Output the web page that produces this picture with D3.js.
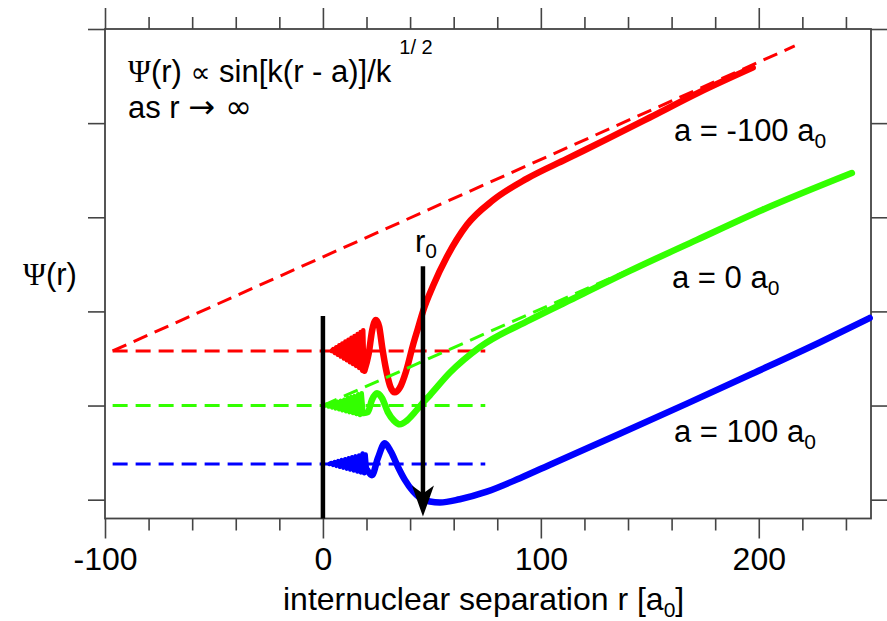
<!DOCTYPE html>
<html>
<head>
<meta charset="utf-8">
<script src="https://cdn.jsdelivr.net/npm/d3@7"></script>
<style>
  body { margin: 0; background: #fff; }
  text { font-family: "Liberation Sans", Arial, sans-serif; fill: #000; }
  .sym { font-family: "Liberation Serif", "DejaVu Serif", serif; }
  .math { font-family: "DejaVu Sans", sans-serif; }
</style>
</head>
<body>
<script>
// ticks
const majorTicks = [-100, 0, 100, 200]
const minorTicks = [-80, -60, -40, -20, 20, 40, 60, 80, 120, 140, 160, 180, 220, 240]
const yTicks = [0, 1, 2, 3, 4, 5]

// dashed reference lines [r, psi]
const redBase = [[-96.5, 1.58], [74.5, 1.58]]
const greenBase = [[-96.5, 1.0], [74.5, 1.0]]
const blueBase = [[-96.5, 0.38], [74.5, 0.38]]
const redSlope = [[-96.5, 1.58], [216.5, 4.82]]
const greenSlope = [[0, 1.0], [155, 2.59]]

// fast oscillation near r = 0
const redFan = [[4, 1.58], [4.7, 1.60], [5.4, 1.56], [6.1, 1.62], [6.8, 1.54], [7.5, 1.64], [8.2, 1.52],
  [8.9, 1.66], [9.6, 1.50], [10.3, 1.68], [11, 1.48], [11.7, 1.70], [12.4, 1.46], [13.1, 1.72],
  [13.8, 1.44], [14.5, 1.74], [15.2, 1.42], [15.9, 1.76], [16.6, 1.40], [17.3, 1.78], [18, 1.37],
  [18.5, 1.80], [19, 1.37]]
const greenFan = [[1, 1.0], [1.8, 1.01], [2.6, 0.99], [3.4, 1.02], [4.2, 0.98], [5, 1.03], [5.8, 0.97],
  [6.6, 1.04], [7.4, 0.96], [8.2, 1.05], [9, 0.95], [9.8, 1.06], [10.6, 0.94], [11.4, 1.08],
  [12.2, 0.93], [13, 1.09], [13.8, 0.92], [14.6, 1.10], [15.4, 0.91], [16.2, 1.12], [17, 0.90],
  [17.8, 1.13], [18.6, 0.92]]
const blueFan = [[3, 0.38], [3.8, 0.39], [4.6, 0.37], [5.4, 0.40], [6.2, 0.36], [7, 0.41], [7.8, 0.35],
  [8.6, 0.42], [9.4, 0.34], [10.2, 0.43], [11, 0.33], [11.8, 0.44], [12.6, 0.32], [13.4, 0.45],
  [14.2, 0.31], [15, 0.46], [15.8, 0.30], [16.6, 0.47], [17.4, 0.29], [18.2, 0.49], [19, 0.28],
  [19.6, 0.48], [20.2, 0.32]]

// wave functions after the fast part
const redPsi = [[19, 1.37], [21, 1.55], [22.6, 1.80], [24.3, 1.91], [25.8, 1.84], [27.2, 1.62],
  [29, 1.38], [30.8, 1.21], [33, 1.14], [35.3, 1.19], [38.1, 1.36], [41.3, 1.64], [43.6, 1.82],
  [45.9, 2.0], [50.5, 2.27], [56.9, 2.58], [66.1, 2.92], [78, 3.18], [93.6, 3.41], [111.9, 3.62],
  [130.3, 3.83], [150, 4.06], [172.9, 4.33], [197.2, 4.59]]
const greenPsi = [[18.6, 0.92], [20.6, 0.93], [22.5, 1.06], [24.8, 1.13], [27.1, 1.08], [29.8, 0.93],
  [32.6, 0.84], [35.3, 0.80], [38.5, 0.84], [42.2, 0.93], [45.9, 1.03], [49.1, 1.11], [58.3, 1.35],
  [72, 1.62], [95, 1.91], [117.9, 2.17], [140.8, 2.43], [171.6, 2.76], [201.8, 3.08], [242.7, 3.47]]
const bluePsi = [[20.2, 0.32], [22.5, 0.26], [25.2, 0.44], [28.4, 0.60], [31.2, 0.51], [34.4, 0.35],
  [37.6, 0.21], [41.3, 0.09], [44.5, 0.02], [49.1, -0.02], [53.7, -0.03], [62.8, 0.005], [75.2, 0.085],
  [90.4, 0.228], [105.5, 0.385], [136.2, 0.70], [167, 1.02], [197.2, 1.34], [227.9, 1.67], [250.9, 1.93]]

// black markers: wall at r = 0 and arrow at r0
const wall = [[0, 1.95], [0, -0.2]]
const r0Arrow = [[45.9, 2.48], [45.9, -0.18]]

const svg = d3.select("body").append("svg")
  .attr("width", 887)
  .attr("height", 621)

const x = d3.scaleLinear().domain([-100, 251.5]).range([105, 871])
const y = d3.scaleLinear().domain([-0.2, 5]).range([518.5, 29])

const line = d3.line().x(d => x(d[0])).y(d => y(d[1]))
const smooth = d3.line().x(d => x(d[0])).y(d => y(d[1])).curve(d3.curveMonotoneX)

// axes (ticks only, the frame is drawn as a rect)
function styleAxis(g) {
  g.select(".domain").remove()
  g.selectAll(".tick line").attr("stroke", "#444").attr("stroke-width", 1.6)
  g.selectAll(".tick text").attr("font-size", "32px").attr("fill", "#000")
    .attr("font-family", "Liberation Sans, Arial, sans-serif")
}
svg.append("g").attr("transform", `translate(0, ${y(-0.2)})`)
  .call(d3.axisBottom(x).tickValues(majorTicks).tickSize(20).tickPadding(9).tickFormat(d => String(d)))
  .call(styleAxis)
svg.append("g").attr("transform", `translate(0, ${y(-0.2)})`)
  .call(d3.axisBottom(x).tickValues(minorTicks).tickSize(12).tickFormat(""))
  .call(styleAxis)
svg.append("g").attr("transform", `translate(0, ${y(5)})`)
  .call(d3.axisTop(x).tickValues(majorTicks).tickSize(21).tickFormat(""))
  .call(styleAxis)
svg.append("g").attr("transform", `translate(0, ${y(5)})`)
  .call(d3.axisTop(x).tickValues(minorTicks).tickSize(12).tickFormat(""))
  .call(styleAxis)
svg.append("g").attr("transform", `translate(${x(-100)}, 0)`)
  .call(d3.axisLeft(y).tickValues(yTicks).tickSize(17).tickFormat(""))
  .call(styleAxis)
svg.append("g").attr("transform", `translate(${x(251.5)}, 0)`)
  .call(d3.axisRight(y).tickValues(yTicks).tickSize(16).tickFormat(""))
  .call(styleAxis)

svg.append("rect")
  .attr("x", x(-100)).attr("y", y(5))
  .attr("width", x(251.5) - x(-100)).attr("height", y(-0.2) - y(5))
  .attr("fill", "none").attr("stroke", "#444").attr("stroke-width", 1.8)

const plot = svg.append("g")

const RED = "#ff0000", GREEN = "#33ff00", BLUE = "#0000ff"

function dashed(data, color) {
  plot.append("path").attr("d", line(data))
    .attr("fill", "none").attr("stroke", color)
    .attr("stroke-width", 3).attr("stroke-dasharray", "15,8")
}
function wave(fan, main, color) {
  plot.append("path").attr("d", line(fan))
    .attr("fill", "none").attr("stroke", color).attr("stroke-width", 4.5)
    .attr("stroke-linejoin", "round").attr("stroke-linecap", "round")
  plot.append("path").attr("d", smooth(main))
    .attr("fill", "none").attr("stroke", color).attr("stroke-width", 6.5)
    .attr("stroke-linejoin", "round").attr("stroke-linecap", "round")
}

wave(redFan, redPsi, RED)
dashed(redBase, RED)
dashed(redSlope, RED)
wave(greenFan, greenPsi, GREEN)
dashed(greenBase, GREEN)
dashed(greenSlope, GREEN)
wave(blueFan, bluePsi, BLUE)
dashed(blueBase, BLUE)

// wall and r0 arrow
plot.append("path").attr("d", line(wall))
  .attr("stroke", "#000").attr("stroke-width", 4.5)
plot.append("path").attr("d", line([r0Arrow[0], [r0Arrow[1][0], r0Arrow[1][1] + 0.2]]))
  .attr("stroke", "#000").attr("stroke-width", 4.5)
const tipX = x(r0Arrow[1][0]), tipY = y(r0Arrow[1][1])
plot.append("path")
  .attr("d", `M${tipX},${tipY} L${tipX - 11},${tipY - 31} L${tipX},${tipY - 23} L${tipX + 11},${tipY - 31} Z`)
  .attr("fill", "#000")

// texts
const formula = svg.append("text").attr("x", 128).attr("y", 82).attr("font-size", "31px")
formula.append("tspan").attr("class", "sym").text("Ψ")
formula.append("tspan").text("(r) ")
formula.append("tspan").attr("class", "math").attr("font-size", "28px").text("∝")
formula.append("tspan").text(" sin[k(r - a)]/k")
formula.append("tspan").attr("font-size", "20px").attr("dy", -28).attr("dx", 8).text("1/ 2")

const asr = svg.append("text").attr("x", 128).attr("y", 118).attr("font-size", "31px")
asr.append("tspan").text("as r ")
asr.append("tspan").attr("class", "math").attr("font-size", "32px").text("→ ∞")

const yl = svg.append("text").attr("x", 23).attr("y", 285).attr("font-size", "31px")
yl.append("tspan").attr("class", "sym").text("Ψ")
yl.append("tspan").text("(r)")

const r0 = svg.append("text").attr("x", 415).attr("y", 252).attr("font-size", "31px")
r0.append("tspan").text("r")
r0.append("tspan").attr("font-size", "21px").attr("dy", 6).text("0")

const curveLabels = [
  { text: "a = -100 a", xp: 674, yp: 141 },
  { text: "a = 0 a", xp: 672, yp: 288 },
  { text: "a = 100 a", xp: 674, yp: 442 }
]
curveLabels.forEach(l => {
  const t = svg.append("text").attr("x", l.xp).attr("y", l.yp).attr("font-size", "31px")
  t.append("tspan").text(l.text)
  t.append("tspan").attr("font-size", "21px").attr("dy", 7).text("0")
})

const xl = svg.append("text").attr("x", 283).attr("y", 610).attr("font-size", "32px")
xl.append("tspan").text("internuclear separation r [a")
xl.append("tspan").attr("font-size", "21px").attr("dy", 7).text("0")
xl.append("tspan").attr("dy", -7).text("]")
</script>
</body>
</html>
